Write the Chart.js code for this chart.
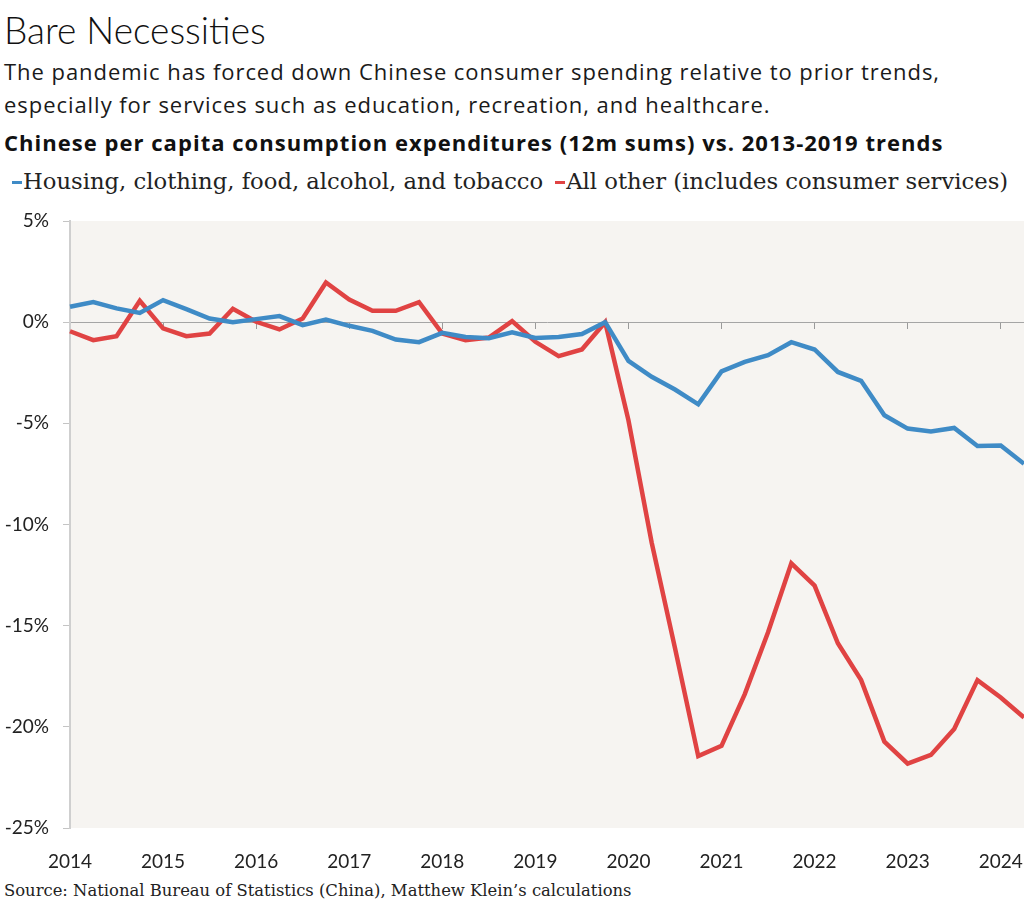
<!DOCTYPE html>
<html>
<head>
<meta charset="utf-8">
<script src="https://cdn.jsdelivr.net/npm/chart.js@4"></script>
<style>
  html, body { margin: 0; padding: 0; background: #fff; }
  body { width: 1024px; height: 906px; position: relative; overflow: hidden; font-family: Lato, "Open Sans", sans-serif; color: #111; }
  .t { position: absolute; left: 4px; white-space: nowrap; }
  #title { top: 7px; font-size: 37px; font-weight: 300; }
  #sub { top: 55px; font-family: "Open Sans", Lato, sans-serif; font-size: 22px; letter-spacing: 0.95px; line-height: 33px; color: #1a1a1a; }
  #head { top: 127px; font-family: "Open Sans", Lato, sans-serif; font-size: 22px; font-weight: 700; letter-spacing: 1.03px; }
  #legend { top: 168px; left: 12px; font-family: "DejaVu Serif", "Liberation Serif", serif; font-size: 22.7px; color: #222; }
  #legend span.mk { display: inline-block; width: 10px; height: 3px; vertical-align: middle; margin-right: 1px; position: relative; top: -1px; }
  #legend span.mk2 { margin-left: 12px; }
  #source { top: 881px; font-family: "DejaVu Serif", "Liberation Serif", serif; font-size: 16.4px; color: #222; }
  #wrap { position: absolute; left: 0; top: 205px; width: 1024px; height: 675px; }
</style>
</head>
<body>
<div class="t" id="title">Bare Necessities</div>
<div class="t" id="sub">The pandemic has forced down Chinese consumer spending relative to prior trends,<br>especially for services such as education, recreation, and healthcare.</div>
<div class="t" id="head">Chinese per capita consumption expenditures (12m sums) vs. 2013-2019 trends</div>
<div class="t" id="legend"><span class="mk" style="background:#3f8bc6"></span>Housing, clothing, food, alcohol, and tobacco<span class="mk mk2" style="background:#e04343"></span>All other (includes consumer services)</div>
<div id="wrap"><canvas id="chart"></canvas></div>
<div class="t" id="source">Source: National Bureau of Statistics (China), Matthew Klein’s calculations</div>
<script>
// quarters, 2014 Q1 .. 2024 Q2
const quarters = [
  '2014 Q1','2014 Q2','2014 Q3','2014 Q4','2015 Q1','2015 Q2','2015 Q3','2015 Q4',
  '2016 Q1','2016 Q2','2016 Q3','2016 Q4','2017 Q1','2017 Q2','2017 Q3','2017 Q4',
  '2018 Q1','2018 Q2','2018 Q3','2018 Q4','2019 Q1','2019 Q2','2019 Q3','2019 Q4',
  '2020 Q1','2020 Q2','2020 Q3','2020 Q4','2021 Q1','2021 Q2','2021 Q3','2021 Q4',
  '2022 Q1','2022 Q2','2022 Q3','2022 Q4','2023 Q1','2023 Q2','2023 Q3','2023 Q4',
  '2024 Q1','2024 Q2'
];

// % deviation from 2013-2019 trend
const necessities = [
  0.76, 0.99, 0.68, 0.46, 1.09, 0.64, 0.18, 0.0, 0.15, 0.3, -0.15, 0.13,
  -0.18, -0.43, -0.86, -0.99, -0.53, -0.73, -0.79, -0.5, -0.78, -0.73, -0.59, 0.0,
  -1.91, -2.7, -3.33, -4.06, -2.43, -1.96, -1.63, -0.99, -1.35, -2.46, -2.9, -4.6,
  -5.26, -5.4, -5.23, -6.12, -6.1, -7.0
];
const allOther = [
  -0.45, -0.89, -0.69, 1.06, -0.31, -0.69, -0.56, 0.66, 0.02, -0.36, 0.18, 1.96,
  1.12, 0.56, 0.56, 0.99, -0.56, -0.89, -0.76, 0.05, -0.97, -1.68, -1.35, 0.0,
  -4.85, -10.9, -16.1, -21.45, -20.94, -18.38, -15.33, -11.92, -13.02, -15.87, -17.69, -20.73,
  -21.82, -21.39, -20.11, -17.69, -18.55, -19.54
];

const yTicks = [5, 0, -5, -10, -15, -20, -25];

const plotBg = {
  id: 'plotBg',
  beforeDraw(chart) {
    const { ctx, chartArea: a } = chart;
    ctx.save();
    ctx.fillStyle = '#f6f4f1';
    ctx.fillRect(a.left, a.top, a.right - a.left, a.bottom - a.top);
    ctx.restore();
  }
};

new Chart(document.getElementById('chart'), {
  type: 'line',
  data: {
    labels: quarters,
    datasets: [
      { label: 'Housing, clothing, food, alcohol, and tobacco', data: necessities,
        borderColor: '#3f8bc6', borderWidth: 4.5, pointRadius: 0, tension: 0 },
      { label: 'All other (includes consumer services)', data: allOther,
        borderColor: '#e04343', borderWidth: 4.5, pointRadius: 0, tension: 0 }
    ]
  },
  options: {
    responsive: true,
    maintainAspectRatio: false,
    animation: false,
    layout: { padding: { top: 16, right: 0, left: 0, bottom: 0 } },
    plugins: { legend: { display: false }, tooltip: { enabled: false } },
    scales: {
      x: {
        type: 'category',
        offset: false,
        grid: { display: false },
        border: { display: false },
        ticks: {
          autoSkip: false,
          maxRotation: 0,
          padding: 14,
          color: '#222',
          font: { family: 'Lato', size: 19 },
          callback: (v, i) => (i % 4 === 0 ? quarters[i].slice(0, 4) : '')
        },
        afterFit: (s) => { s.height = 52; s.paddingLeft = 0; s.paddingRight = 0; }
      },
      x0: {
        type: 'category',
        position: { y: 0 },
        offset: false,
        grid: {
          drawOnChartArea: false,
          tickLength: 6,
          color: (c) => (c.index % 4 === 0 && c.index > 0 ? '#9a9a9a' : 'rgba(0,0,0,0)')
        },
        border: { display: true, color: '#a5a5a5', width: 1 },
        ticks: { display: false, autoSkip: false }
      },
      y: {
        min: -25,
        max: 5,
        afterBuildTicks: (s) => { s.ticks = yTicks.map(v => ({ value: v })); },
        grid: { drawOnChartArea: false, tickLength: 7, color: '#c4c4c4' },
        border: { display: true, color: '#cfcfcf', width: 2 },
        ticks: {
          padding: 14,
          color: '#222',
          font: { family: 'Lato', size: 19 },
          callback: (v) => v + '%'
        },
        afterFit: (s) => { s.width = 70; s.paddingTop = 0; s.paddingBottom = 0; }
      }
    }
  },
  plugins: [plotBg]
});
</script>
</body>
</html>
